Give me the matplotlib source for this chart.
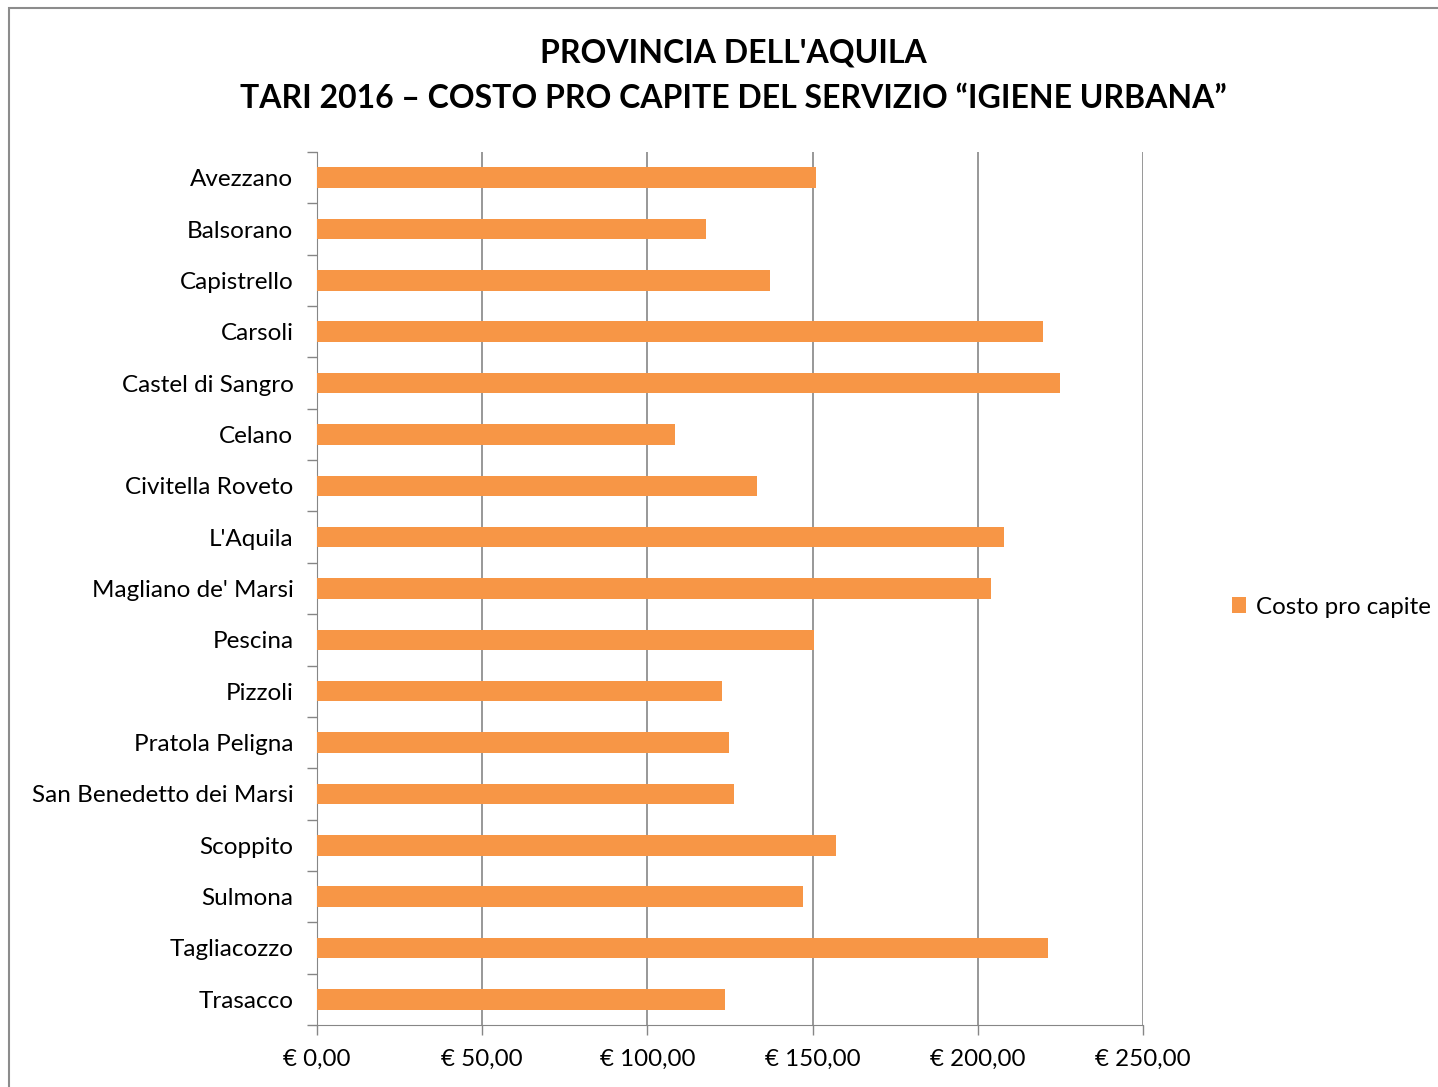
import matplotlib.pyplot as plt
import numpy as np
from matplotlib.patches import Rectangle

comuni = ["Avezzano", "Balsorano", "Capistrello", "Carsoli", "Castel di Sangro",
          "Celano", "Civitella Roveto", "L'Aquila", "Magliano de' Marsi", "Pescina",
          "Pizzoli", "Pratola Peligna", "San Benedetto dei Marsi", "Scoppito",
          "Sulmona", "Tagliacozzo", "Trasacco"]
costo = [151.0, 117.6, 137.2, 219.7, 224.8, 108.3, 133.1, 207.8, 204.0, 150.5,
         122.7, 124.7, 126.2, 157.1, 147.1, 221.3, 123.5]
xticks = [0, 50, 100, 150, 200, 250]
xlabels = ["€ 0,00", "€ 50,00", "€ 100,00", "€ 150,00", "€ 200,00", "€ 250,00"]

plt.rcParams['font.family'] = ['Lato', 'DejaVu Sans']
grey = "#868686"

fig = plt.figure(figsize=(14.38, 10.87), dpi=100)
fig.patches.append(Rectangle((9 / 1438, -0.1), 1.2, 1.1 - 8 / 1087, transform=fig.transFigure,
                             fill=False, edgecolor="#8c8c8c", linewidth=1.5))

ax = fig.add_axes([317 / 1438, 1 - 1025 / 1087, 826 / 1438, 873 / 1087])
y = np.arange(len(comuni))
ax.barh(y, costo, height=0.4, color="#F79646", label="Costo pro capite", zorder=3)
ax.set_xlim(0, 250)
ax.set_ylim(len(comuni) - 0.5, -0.5)

ax.set_xticks(xticks)
ax.set_xticklabels(xlabels, fontsize=17.4)
ax.set_yticks(y)
ax.set_yticklabels(comuni, fontsize=17.5)
ax.tick_params(axis="y", length=0, pad=17)
ax.set_yticks(np.arange(len(comuni) + 1) - 0.5, minor=True)
ax.tick_params(axis="y", which="minor", length=7, color=grey, width=1)
ax.tick_params(axis="x", length=7, color=grey, width=1, pad=10)
ax.grid(axis="x", color=grey, linewidth=1.2, zorder=0)

for s in ["top", "right"]:
    ax.spines[s].set_visible(False)
ax.spines["left"].set_color(grey)
ax.spines["bottom"].set_color(grey)

fig.text(733 / 1438, 1 - 53 / 1087, "PROVINCIA DELL'AQUILA", ha="center", va="center",
         fontsize=23, fontweight="bold")
fig.text(733 / 1438, 1 - 98 / 1087, "TARI 2016 – COSTO PRO CAPITE DEL SERVIZIO “IGIENE URBANA”",
         ha="center", va="center", fontsize=23, fontweight="bold")

fig.legend(loc="center left", bbox_to_anchor=(1210 / 1438, 1 - 607 / 1087), frameon=False,
           fontsize=17.4, handlelength=0.6, handleheight=0.6, handletextpad=0.4)

fig.savefig("out.png", dpi=100)
